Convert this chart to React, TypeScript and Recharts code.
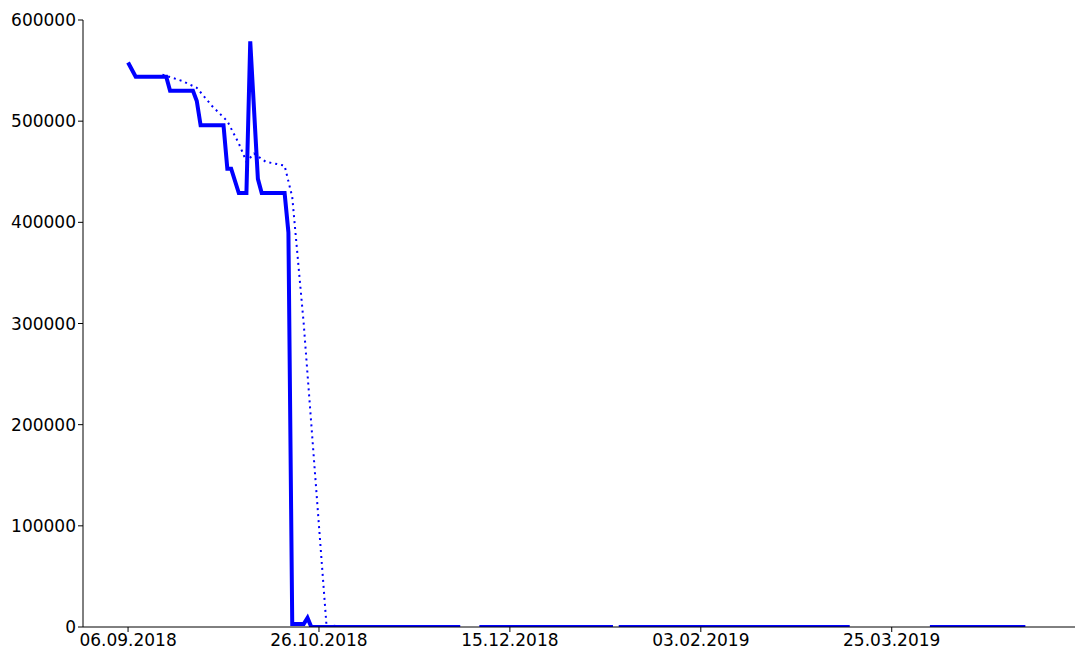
import { Line, LineChart, XAxis, YAxis } from "recharts";

// x = days since 06.09.2018
const solidDays = [0, 2, 10, 11, 17, 18, 19, 25, 26, 27, 29, 31, 32, 34, 35, 41, 42, 43, 46, 47, 48, 87, 89, 92, 127, 128, 128.5, 189, 200, 210, 235];
const solidValues = [558000, 544000, 544000, 530000, 530000, 520000, 496000, 496000, 453000, 453000, 429000, 429000, 579000, 443000, 429000, 429000, 390000, 3000, 3000, 9000, 0, 0, null, 0, 0, null, 0, 0, null, 0, 0];
const dottedDays = [9, 14, 18, 22, 26, 29, 31, 33, 36, 41, 43, 46, 48, 50, 52, 55];
const dottedValues = [546000, 540000, 533000, 515000, 500000, 478000, 460000, 468000, 460000, 456000, 425000, 300000, 200000, 100000, 0, 1500];
const tickDays = [0, 50, 100, 150, 200];
const tickLabels = ["06.09.2018", "26.10.2018", "15.12.2018", "03.02.2019", "25.03.2019"];
const yTicks = [0, 100000, 200000, 300000, 400000, 500000, 600000];

const solid = solidDays.map((d, i) => ({ d, v: solidValues[i] }));
const dotted = dottedDays.map((d, i) => ({ d, v: dottedValues[i] }));

const tick = { fill: "#000", fontSize: 17, fontFamily: "DejaVu Sans" };

export default function App() {
  return (
    <LineChart width={1078} height={653} margin={{ top: 12, right: 11, left: 0, bottom: 0 }}>
      <XAxis
        dataKey="d"
        type="number"
        domain={[-11.8, 248]}
        ticks={tickDays}
        tickFormatter={(v) => tickLabels[tickDays.indexOf(v)]}
        allowDuplicatedCategory={false}
        height={34}
        stroke="#000"
        tick={tick}
        tickSize={5}
      />
      <YAxis
        type="number"
        domain={[0, 600000]}
        ticks={yTicks}
        width={75}
        stroke="#000"
        tick={tick}
        tickSize={5}
        allowDataOverflow
      />
      <Line data={dotted} dataKey="v" type="linear" stroke="#0000ff" strokeWidth={2} strokeDasharray="2 4" dot={false} isAnimationActive={false} />
      <Line data={solid} dataKey="v" type="linear" stroke="#0000ff" strokeWidth={4} dot={false} isAnimationActive={false} />
    </LineChart>
  );
}
